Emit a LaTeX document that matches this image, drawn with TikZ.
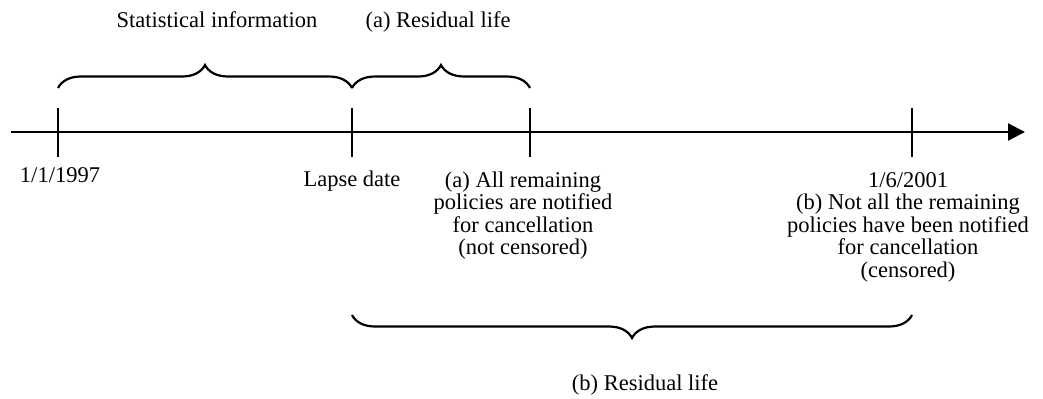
\documentclass[tikz,border=0pt]{standalone}
\usepackage{fontspec}
\setmainfont{Liberation Serif}
\usetikzlibrary{arrows.meta,decorations.pathreplacing}

\begin{document}
\begin{tikzpicture}[x=0.5pt,y=-0.5pt,
  axisline/.style={line width=1.1pt,-{Triangle[length=8.5pt,width=8.5pt]}},
  tickline/.style={line width=1pt},
  brc/.style={decorate,decoration={brace,amplitude=11.5pt},line width=1.1pt},
  lbl/.style={font=\fontsize{11.25}{11.25}\selectfont,inner sep=0pt,anchor=base,align=center}
]
  \useasboundingbox (0,0) rectangle (1043,398);

  % time axis
  \coordinate (ax0) at (11,132);
  \coordinate (ax1) at (1025,132);
  \draw[axisline] (ax0) -- (ax1);

  % dates on the axis
  \coordinate (t0) at (58,132);
  \coordinate (t1) at (352,132);
  \coordinate (t2) at (530,132);
  \coordinate (t3) at (912,132);
  \foreach \t in {t0,t1,t2,t3}
    \draw[tickline] ([yshift=12pt]\t) -- ([yshift=-12.5pt]\t);

  % braces
  \draw[brc] ([yshift=22pt]t0) -- ([yshift=22pt]t1);
  \draw[brc] ([yshift=22pt]t1) -- ([yshift=22pt]t2);
  \draw[brc] ([yshift=-91.5pt]t3) -- ([yshift=-91.5pt]t1);

  % labels (base of a multi-line node is its last line)
  \node[lbl] (stat) at (217,27) {Statistical information};
  \node[lbl] (resa) at (438,27) {(a) Residual life};
  \node[lbl] (start) at (60,182) {1/1/1997};
  \node[lbl] (lapse) at (352,186) {Lapse date};
  \node[lbl] (casea) at (523,254.5) {(a) All remaining\\policies are notified\\for cancellation\\(not censored)};
  \node[lbl] (caseb) at (908,277) {1/6/2001\\(b) Not all the remaining\\policies have been notified\\for cancellation\\(censored)};
  \node[lbl] (resb) at (645,390) {(b) Residual life};
\end{tikzpicture}
\end{document}
